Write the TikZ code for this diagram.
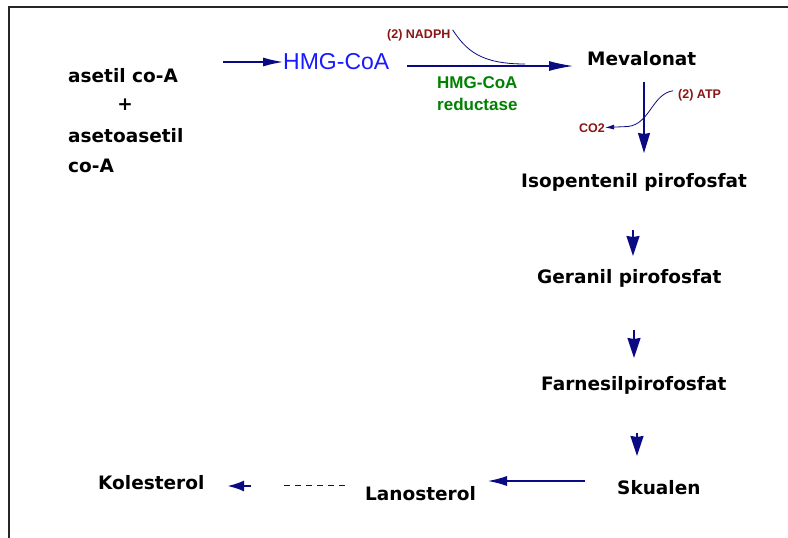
\documentclass[tikz,border=0pt]{standalone}
\usepackage{fontspec}
\newfontfamily\comicfont{DejaVu Sans}
\newfontfamily\arialfont{Liberation Sans}
\usetikzlibrary{arrows.meta}
\definecolor{navy}{RGB}{10,10,130}
\definecolor{cofred}{RGB}{140,20,20}
\definecolor{hmgblue}{RGB}{25,25,255}
\definecolor{enzgreen}{RGB}{0,130,0}
\begin{document}
\begin{tikzpicture}[x=1pt,y=-1pt,
  chem/.style={font=\comicfont\bfseries\fontsize{18.5}{22}\selectfont, inner sep=0pt, anchor=base west},
  cofac/.style={font=\arialfont\bfseries\fontsize{12.5}{15}\selectfont, text=cofred, inner sep=0pt, anchor=base west},
  enz/.style={font=\arialfont\bfseries\fontsize{17}{20}\selectfont, text=enzgreen, inner sep=0pt, anchor=base west},
  flow/.style={draw=navy, line width=1.2pt, -{Latex[length=20pt,width=9pt]}},
  stepdown/.style={draw=navy, fill=navy, line width=1.8pt, -{Stealth[length=20pt,width=13pt,inset=1pt]}},
  thin/.style={draw=navy, line width=0.8pt}
]
\useasboundingbox (0,0) rectangle (788,538);
\fill[white] (0,0) rectangle (788,538);
\draw[line width=1.6pt, black!85] (9,538) -- (9,7) -- (788,7);

% substrates
\node[chem] (acetyl) at (68,82) {asetil co-A};
\node[font=\comicfont\bfseries\fontsize{18.5}{22}\selectfont, inner sep=0pt] (plus) at (125,104.5) {+};
\node[chem] (acac) at (68,142) {asetoasetil};
\node[chem] (coa) at (68,172) {co-A};

% HMG-CoA
\node[font=\arialfont\fontsize{23}{26}\selectfont, text=hmgblue, inner sep=0pt, anchor=base west] (hmg) at (283,69) {HMG-CoA};
\coordinate (a1s) at (223,62);
\draw[flow] (a1s) -- (hmg.west |- a1s);

% Mevalonat
\node[chem] (mev) at (587,65) {Mevalonat};
\coordinate (a2s) at (407,66);
\coordinate (a2e) at (573,66);
\draw[flow, -{Latex[length=24pt,width=10pt]}] (a2s) -- (a2e);
\node[cofac] (nadph) at (387,38) {(2) NADPH};
\coordinate (nadphj) at (525,64);
\draw[thin] (nadph.east) ++(2,-5) .. controls (466,50) and (480,64) .. (nadphj);
\node[enz] (enz1) at (437,88) {HMG-CoA};
\node[enz] (enz2) at (437,110) {reductase};

% Isopentenil
\coordinate (a3s) at (644,82);
\coordinate (a3e) at (644,153);
\draw[draw=navy, line width=1.5pt, -{Stealth[length=20pt,width=12pt,inset=1pt]}] (a3s) -- (a3e);
\node[cofac] (atp) at (678,98) {(2) ATP};
\node[cofac] (co2) at (579,132) {CO2};
\draw[thin, -{Latex[length=9pt,width=5pt]}] (atp.west) ++(-5,-4) .. controls (652,94) and (650,124) .. (628,126.5) -- (co2.east |- 0,127.5);
\node[chem] (ipp) at (521,187) {Isopentenil pirofosfat};

% Geranil
\coordinate (a4s) at (633,230);
\coordinate (a4e) at (633,256);
\draw[stepdown] (a4s) -- (a4e);
\node[chem] (gpp) at (537,283) {Geranil pirofosfat};

% Farnesil
\coordinate (a5s) at (634,330);
\coordinate (a5e) at (634,358);
\draw[stepdown] (a5s) -- (a5e);
\node[chem] (fpp) at (541,390) {Farnesilpirofosfat};

% Skualen
\coordinate (a6s) at (637,433);
\coordinate (a6e) at (637,456);
\draw[stepdown] (a6s) -- (a6e);
\node[chem] (sq) at (617,494) {Skualen};

% Lanosterol
\node[chem] (lan) at (365,500) {Lanosterol};
\coordinate (a7s) at (585,481);
\coordinate (a7e) at (488,481);
\draw[flow, -{Latex[length=19pt,width=10pt]}] (a7s) -- (a7e);

% Kolesterol
\node[chem] (kol) at (98,489) {Kolesterol};
\coordinate (d1) at (345,485);
\coordinate (d2) at (280,485);
\draw[draw=navy, line width=1pt, dash pattern=on 6pt off 5pt] (d1) -- (d2);
\coordinate (a8s) at (251,486);
\coordinate (a8e) at (227,486);
\draw[draw=navy, line width=2.6pt, -{Latex[length=17pt,width=11pt]}] (a8s) -- (a8e);
\end{tikzpicture}
\end{document}
